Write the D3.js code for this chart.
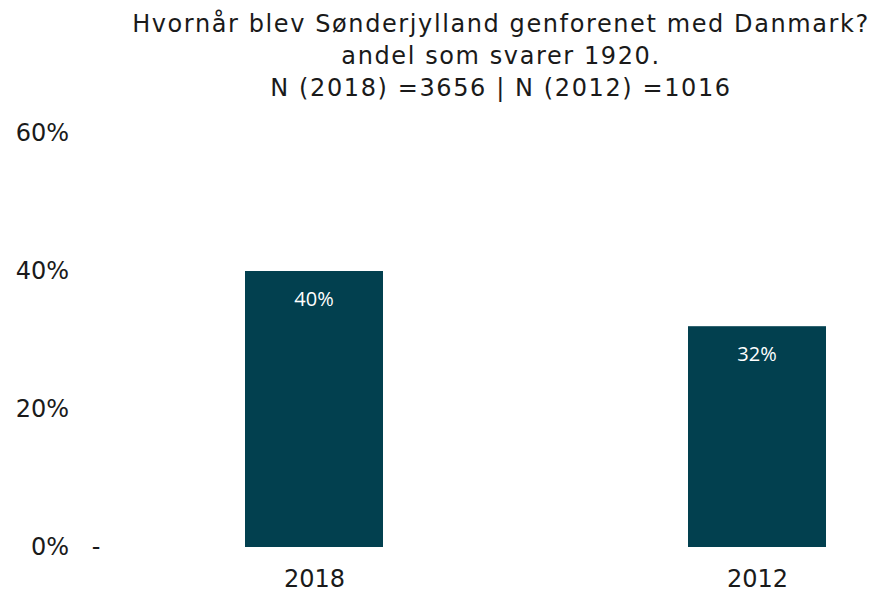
<!DOCTYPE html>
<html lang="da">
  <head>
    <meta charset="UTF-8" />
    <title>Sønderjylland</title>
    <script src="https://d3js.org/d3.v7.min.js"></script>
    <style>
      body {
        margin: 0;
        background: #ffffff;
        font-family: "DejaVu Sans", Verdana, sans-serif;
      }
      .title {
        font-size: 24px;
        fill: #1a1a1a;
        letter-spacing: 1.6px;
      }
      .tick text {
        font-family: "DejaVu Sans", Verdana, sans-serif;
        font-size: 24px;
        fill: #1a1a1a;
      }
    </style>
  </head>
  <body>
    <div id="chart"></div>
    <script>
      // data
      const years = ["2018", "2012"];
      const shares = [0.40, 0.32];
      const yTicks = [0, 0.2, 0.4, 0.6];
      const titleLines = [
        "Hvornår blev Sønderjylland genforenet med Danmark?",
        "andel som svarer 1920.",
        "N (2018) =3656 | N (2012) =1016"
      ];

      const width = 873, height = 590;
      const svg = d3.select("#chart").append("svg")
        .attr("width", width)
        .attr("height", height);

      // title
      svg.selectAll(".title")
        .data(titleLines)
        .enter()
        .append("text")
        .attr("class", "title")
        .attr("x", 501)
        .attr("y", (d, i) => 32 + i * 32)
        .attr("text-anchor", "middle")
        .text((d) => d);

      // scales
      const x = d3.scalePoint().domain(years).range([314, 757]);
      const barW = 138;
      const y = d3.scaleLinear().domain([0, 0.6]).range([547, 133]);

      // y axis (labels only)
      const yAxis = svg.append("g")
        .attr("class", "yaxis")
        .attr("transform", "translate(69,0)")
        .call(d3.axisLeft(y).tickValues(yTicks).tickFormat(d3.format(".0%")).tickSize(0).tickPadding(0));
      yAxis.select(".domain").remove();

      // small dash at the zero line
      svg.append("text")
        .attr("x", 96)
        .attr("y", y(0))
        .attr("dy", "0.32em")
        .attr("text-anchor", "middle")
        .style("font-size", "24px")
        .style("fill", "#1a1a1a")
        .text("-");

      // bars
      const rows = years.map((yr, i) => ({ year: yr, value: shares[i] }));
      svg.selectAll(".bar")
        .data(rows)
        .enter()
        .append("rect")
        .attr("class", "bar")
        .attr("x", (d) => x(d.year) - barW / 2)
        .attr("width", barW)
        .attr("y", (d) => y(d.value))
        .attr("height", (d) => y(0) - y(d.value))
        .attr("fill", "#02404f");

      // value labels
      svg.selectAll(".val")
        .data(rows)
        .enter()
        .append("text")
        .attr("x", (d) => x(d.year))
        .attr("y", (d) => y(d.value) + 35)
        .attr("text-anchor", "middle")
        .style("font-family", "'Open Sans', sans-serif")
        .style("font-size", "20px")
        .style("fill", "#ffffff")
        .text((d) => d3.format(".0%")(d.value));

      // x axis
      const xAxis = svg.append("g")
        .attr("class", "xaxis")
        .attr("transform", "translate(0," + y(0) + ")")
        .call(d3.axisBottom(x).tickSize(0).tickPadding(23));
      xAxis.select(".domain").remove();
    </script>
  </body>
</html>
